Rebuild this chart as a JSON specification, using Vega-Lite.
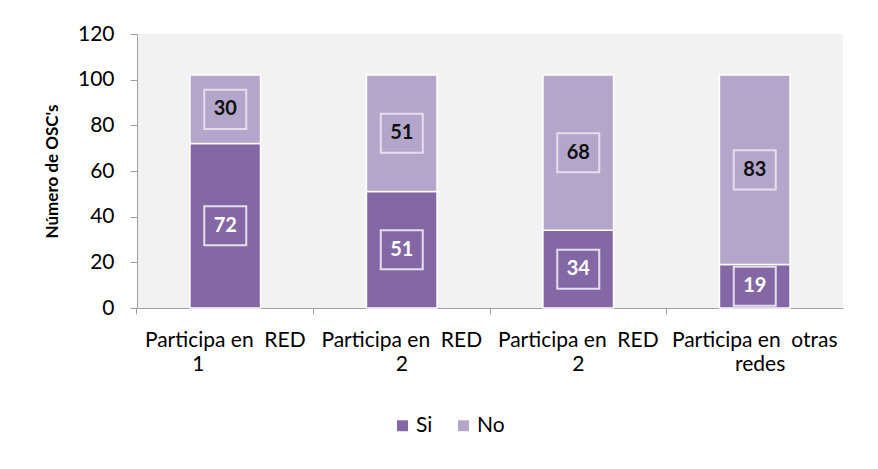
{
  "$schema": "https://vega.github.io/schema/vega-lite/v6.json",
  "width": 706,
  "height": 274,
  "autosize": "none",
  "padding": {"left": 137, "top": 34, "right": 35, "bottom": 161},
  "background": "white",
  "config": {
    "view": {"fill": "#f2f2f2", "stroke": null},
    "font": "Lato",
    "axis": {"labelFont": "Lato", "titleFont": "Lato"},
    "legend": {"labelFont": "Lato"}
  },
  "data": {
    "values": [
      {"id": 1, "categoria": "Participa en 1 RED", "respuesta": "Si", "orden": 0, "valor": 72},
      {"id": 1, "categoria": "Participa en 1 RED", "respuesta": "No", "orden": 1, "valor": 30},
      {"id": 2, "categoria": "Participa en 2 RED", "respuesta": "Si", "orden": 0, "valor": 51},
      {"id": 2, "categoria": "Participa en 2 RED", "respuesta": "No", "orden": 1, "valor": 51},
      {"id": 3, "categoria": "Participa en 2 RED", "respuesta": "Si", "orden": 0, "valor": 34},
      {"id": 3, "categoria": "Participa en 2 RED", "respuesta": "No", "orden": 1, "valor": 68},
      {"id": 4, "categoria": "Participa en otras redes", "respuesta": "Si", "orden": 0, "valor": 19},
      {"id": 4, "categoria": "Participa en otras redes", "respuesta": "No", "orden": 1, "valor": 83}
    ]
  },
  "transform": [
    {"stack": "valor", "groupby": ["id"], "sort": [{"field": "orden", "order": "ascending"}], "as": ["v0", "v1"]},
    {"calculate": "(datum.v0 + datum.v1) / 2", "as": "vm"}
  ],
  "encoding": {
    "x": {
      "field": "id",
      "type": "ordinal",
      "scale": {"paddingInner": 0.6, "paddingOuter": 0.3},
      "axis": {
        "title": null,
        "labelAngle": 0,
        "labelFontSize": 21,
        "labelLineHeight": 24,
        "labelPadding": 15,
        "labelColor": "#000000",
        "labelLimit": 0,
        "labelOverlap": false,
        "labelBound": false,
        "tickSize": 6,
        "tickColor": "#a0a0a0",
        "domainColor": "#a0a0a0",
        "bandPosition": -0.75,
        "labelExpr": "datum.value == 1 ? ['Participa en\u00a0\u00a0RED', '1\u00a0\u00a0\u00a0\u00a0\u00a0\u00a0\u00a0\u00a0\u00a0\u00a0\u200b'] : datum.value == 4 ? ['Participa en\u00a0\u00a0otras', '\u200b\u00a0\u00a0redes'] : ['Participa en\u00a0\u00a0RED', '2']"
      }
    }
  },
  "layer": [
    {
      "mark": {"type": "bar", "stroke": "white", "strokeWidth": 1.5},
      "encoding": {
        "y": {
          "field": "v1",
          "type": "quantitative",
          "scale": {"domain": [0, 120]},
          "axis": {
            "values": [0, 20, 40, 60, 80, 100, 120],
            "grid": false,
            "title": "Número de OSC's",
            "titleFontSize": 17,
            "titleFontWeight": "bold",
            "titleColor": "#000000",
            "titlePadding": 16,
            "labelFontSize": 21,
            "labelColor": "#000000",
            "labelPadding": 16,
            "tickSize": 7,
            "tickColor": "#a0a0a0",
            "domainColor": "#a0a0a0"
          }
        },
        "y2": {"field": "v0"},
        "color": {
          "field": "respuesta",
          "type": "nominal",
          "scale": {"domain": ["Si", "No"], "range": ["#8468a6", "#b4a6ca"]},
          "legend": {
            "title": null,
            "orient": "none",
            "direction": "horizontal",
            "legendX": 255,
            "legendY": 381,
            "symbolType": "square",
            "symbolSize": 120,
            "symbolStrokeWidth": 0,
            "labelFontSize": 21,
            "labelColor": "#000000",
            "labelOffset": 3,
            "columnPadding": 20
          }
        },
        "order": {"field": "orden", "type": "quantitative"}
      }
    },
    {
      "mark": {
        "type": "point",
        "shape": "M-1,-0.93H1V0.93H-1Z",
        "filled": false,
        "stroke": "#e4deec",
        "strokeWidth": 2,
        "opacity": 1,
        "size": 1764
      },
      "encoding": {
        "y": {"field": "vm", "type": "quantitative"}
      }
    },
    {
      "mark": {"type": "text", "fontSize": 20, "fontWeight": "bold", "font": "Lato", "baseline": "middle"},
      "encoding": {
        "y": {"field": "vm", "type": "quantitative"},
        "text": {"field": "valor", "type": "quantitative"},
        "color": {"condition": {"test": "datum.respuesta == 'Si'", "value": "#ffffff"}, "value": "#111111"}
      }
    }
  ]
}
